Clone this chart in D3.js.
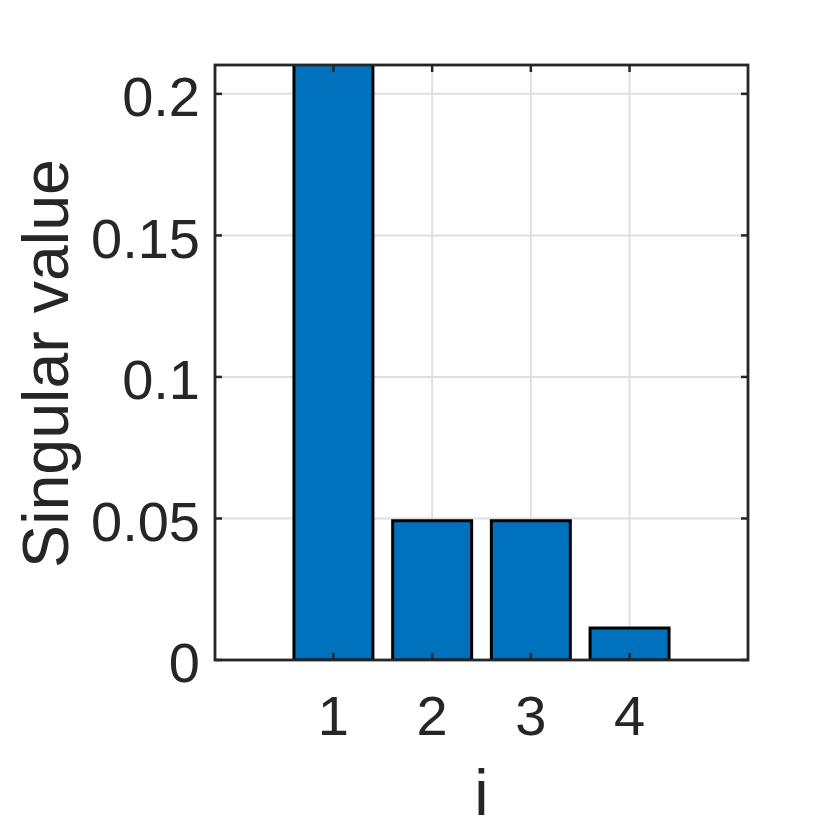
<!DOCTYPE html>
<html><head><meta charset="utf-8">
<script src="https://cdn.jsdelivr.net/npm/d3@7"></script>
<style>body{margin:0;background:#fff}svg{display:block}</style>
</head><body>
<svg id="c" width="830" height="830"></svg>
<script>
const categories = [1, 2, 3, 4];
const values = [0.24, 0.0492, 0.0492, 0.0113];
const yTicks = [0, 0.05, 0.1, 0.15, 0.2];
const yTickLabels = ["0", "0.05", "0.1", "0.15", "0.2"];
const xLabel = "i";
const yLabel = "Singular value";

const svg = d3.select("#c");
const L = 215, R = 748, T = 65, B = 660;
const x = d3.scaleLinear().domain([-0.2, 5.2]).range([L, R]);
const y = d3.scaleLinear().domain([0, 0.2102]).range([B, T]);
const font = "'Liberation Sans', Arial, sans-serif";
const axisCol = "#262626";
const tickFs = 56, labelFs = 64.5;

// grid
svg.append("g").selectAll("line").data(categories).join("line")
  .attr("x1", d => x(d)).attr("x2", d => x(d)).attr("y1", T).attr("y2", B)
  .attr("stroke", "#dfdfdf").attr("stroke-width", 2);
svg.append("g").selectAll("line").data(yTicks).join("line")
  .attr("x1", L).attr("x2", R).attr("y1", d => y(d)).attr("y2", d => y(d))
  .attr("stroke", "#dfdfdf").attr("stroke-width", 2);

// bars
svg.append("defs").append("clipPath").attr("id", "clip")
  .append("rect").attr("x", L).attr("y", T).attr("width", R - L).attr("height", B - T);
const bw = 0.8;
svg.append("g").attr("clip-path", "url(#clip)").selectAll("rect").data(categories).join("rect")
  .attr("x", d => x(d - bw / 2)).attr("width", x(bw) - x(0))
  .attr("y", (d, i) => y(values[i])).attr("height", (d, i) => y(0) - y(values[i]))
  .attr("fill", "#0072BD").attr("stroke", "#000").attr("stroke-width", 3);

// ticks (inward, mirrored)
const tl = 7;
const tg = svg.append("g").attr("stroke", axisCol).attr("stroke-width", 2.5);
categories.forEach(d => {
  tg.append("line").attr("x1", x(d)).attr("x2", x(d)).attr("y1", B).attr("y2", B - tl);
  tg.append("line").attr("x1", x(d)).attr("x2", x(d)).attr("y1", T).attr("y2", T + tl);
});
yTicks.forEach(d => {
  tg.append("line").attr("x1", L).attr("x2", L + tl).attr("y1", y(d)).attr("y2", y(d));
  tg.append("line").attr("x1", R).attr("x2", R - tl).attr("y1", y(d)).attr("y2", y(d));
});

// box
svg.append("rect").attr("x", L).attr("y", T).attr("width", R - L).attr("height", B - T)
  .attr("fill", "none").attr("stroke", axisCol).attr("stroke-width", 2.8);

// tick labels
svg.append("g").selectAll("text").data(yTicks).join("text")
  .attr("x", L - 15).attr("y", d => y(d)).attr("dy", "0.4em")
  .attr("text-anchor", "end").attr("font-family", font).attr("font-size", tickFs)
  .attr("fill", axisCol).text((d, i) => yTickLabels[i]);
svg.append("g").selectAll("text").data(categories).join("text")
  .attr("x", d => x(d)).attr("y", 735)
  .attr("text-anchor", "middle").attr("font-family", font).attr("font-size", tickFs)
  .attr("fill", axisCol).text(d => d);

// axis labels
svg.append("text").attr("x", (L + R) / 2).attr("y", 815).attr("text-anchor", "middle")
  .attr("font-family", font).attr("font-size", labelFs).attr("fill", axisCol).text(xLabel);
svg.append("text").attr("transform", `translate(68,363.5) rotate(-90)`)
  .attr("text-anchor", "middle").attr("font-family", font).attr("font-size", labelFs)
  .attr("fill", axisCol).text(yLabel);
</script>
</body></html>
